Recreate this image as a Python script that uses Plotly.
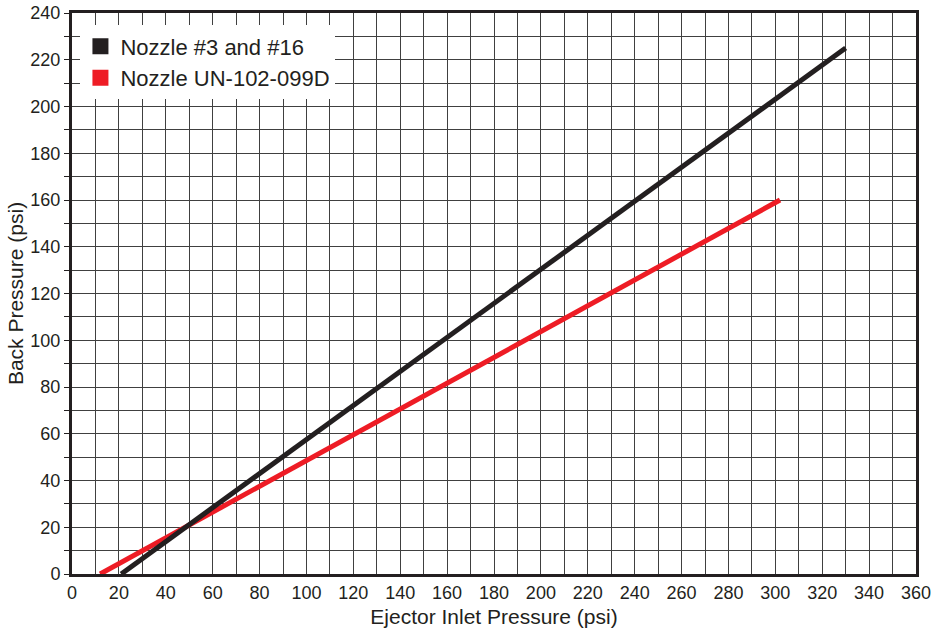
import plotly.graph_objects as go

# Data
series_names = ["Nozzle #3 and #16", "Nozzle UN-102-099D"]
colors = ["#231f20", "#ee1c25"]
nozzle3_x = [21, 330]
nozzle3_y = [0, 225]
un102_x = [12, 302]
un102_y = [0, 160]

fig = go.Figure()
# actual lines (red below black)
fig.add_trace(go.Scatter(x=un102_x, y=un102_y, mode="lines",
                         line=dict(color=colors[1], width=5), showlegend=False))
fig.add_trace(go.Scatter(x=nozzle3_x, y=nozzle3_y, mode="lines",
                         line=dict(color=colors[0], width=5), showlegend=False))
# legend entries with square markers
for name, c in zip(series_names, colors):
    fig.add_trace(go.Scatter(x=[None], y=[None], mode="markers", name=name,
                             marker=dict(symbol="square", size=16, color=c)))

grid_color = "#404040"
font_color = "#231f20"
fig.update_layout(
    width=931, height=633,
    margin=dict(l=72, r=15, t=13, b=59),
    paper_bgcolor="white", plot_bgcolor="white",
    font=dict(family="Liberation Sans, Arial, sans-serif", color=font_color, size=18),
    legend=dict(x=0.01, y=0.978, xanchor="left", yanchor="top",
                bgcolor="white", borderwidth=0, font=dict(size=22),
                tracegroupgap=0, itemwidth=30),
    showlegend=True,
)
fig.update_xaxes(
    range=[0, 360], dtick=20, tick0=0, showgrid=True, gridcolor=grid_color, gridwidth=1.4,
    minor=dict(dtick=10, showgrid=True, gridcolor=grid_color, gridwidth=1.4),
    showline=True, linecolor="#231f20", linewidth=3, mirror=True,
    ticks="", zeroline=False, automargin=False, ticklabeloverflow="allow",
    title=dict(text="Ejector Inlet Pressure (psi)", font=dict(size=21), standoff=8),
    tickfont=dict(size=18),
)
fig.update_yaxes(
    range=[0, 240], dtick=20, tick0=0, showgrid=True, gridcolor=grid_color, gridwidth=1.4,
    minor=dict(dtick=10, showgrid=True, gridcolor=grid_color, gridwidth=1.4,
               ticks="outside", ticklen=5, tickcolor="#231f20"),
    showline=True, linecolor="#231f20", linewidth=3, mirror=True,
    ticks="outside", ticklen=5, tickcolor="#231f20", zeroline=False, automargin=False,
    ticklabeloverflow="allow",
    title=dict(text="Back Pressure (psi)", font=dict(size=21), standoff=2),
    tickfont=dict(size=18),
)

fig.write_html("out.html", config={"displayModeBar": False},
               post_script="document.body.style.margin='0';")
